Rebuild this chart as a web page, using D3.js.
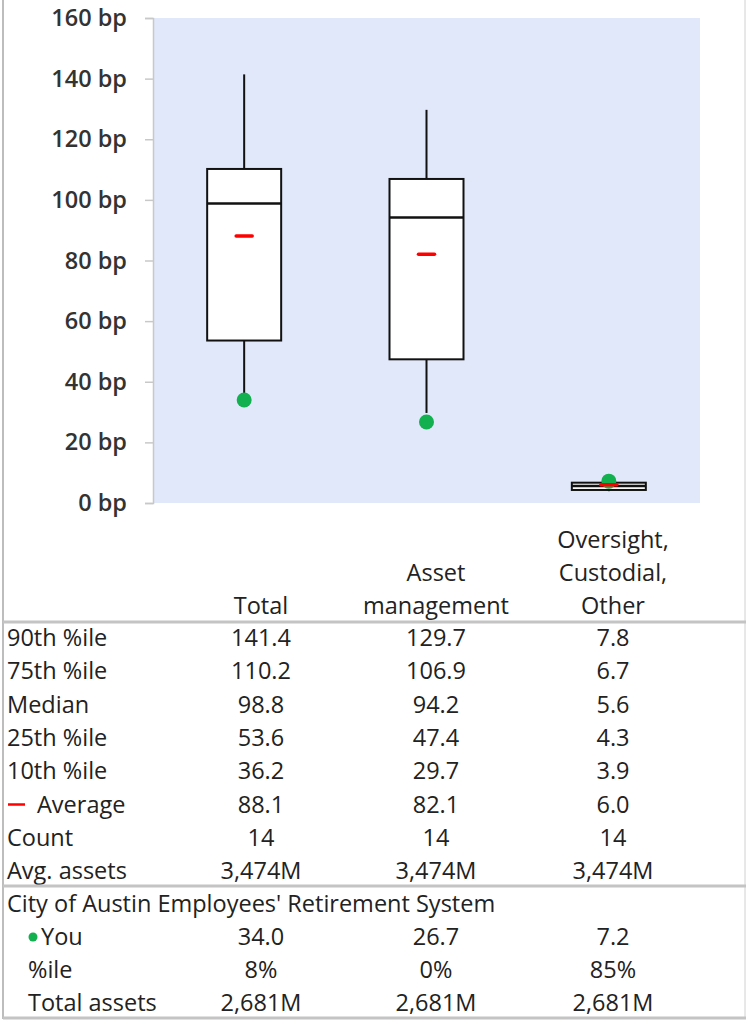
<!DOCTYPE html>
<head>
  <meta charset="utf-8">
  <style>
    body { margin: 0; background: #fff; }
    text { font-family: "Open Sans", "Noto Sans", sans-serif; fill: #222; }
    .tick-label { font-size: 23.5px; font-weight: 600; fill: #333; }
    .cell { font-size: 23.5px; }
  </style>
</head>
<body>
  <div id="chart"></div>
  <script src="https://d3js.org/d3.v7.min.js"></script>
  <script>
    const categories = ['Total', 'Asset management', 'Oversight, Custodial, Other'];
    const headerLines = [['Total'], ['Asset', 'management'], ['Oversight,', 'Custodial,', 'Other']];
    const p90 = [141.4, 129.7, 7.8];
    const p75 = [110.2, 106.9, 6.7];
    const median = [98.8, 94.2, 5.6];
    const p25 = [53.6, 47.4, 4.3];
    const p10 = [36.2, 29.7, 3.9];
    const average = [88.1, 82.1, 6.0];
    const count = [14, 14, 14];
    const avgAssets = ['3,474M', '3,474M', '3,474M'];
    const you = [34.0, 26.7, 7.2];
    const youPctile = ['8%', '0%', '85%'];
    const totalAssets = ['2,681M', '2,681M', '2,681M'];
    const yTicks = [0, 20, 40, 60, 80, 100, 120, 140, 160];
    const orgName = "City of Austin Employees' Retirement System";

    const W = 746, H = 1021;
    const plot = { left: 153, right: 700, top: 18, bottom: 503 };

    const svg = d3.select('#chart').append('svg')
      .attr('width', W).attr('height', H);

    // plot background
    svg.append('rect')
      .attr('x', plot.left).attr('y', plot.top)
      .attr('width', plot.right - plot.left).attr('height', plot.bottom - plot.top)
      .attr('fill', '#e1e8fa');

    let x = d3.scaleBand().domain(categories).range([plot.left, plot.right]);
    let y = d3.scaleLinear().domain([0, 160]).range([plot.bottom, plot.top]);

    // y axis
    let yAxis = svg.append('g')
      .attr('transform', `translate(${plot.left},0)`)
      .call(d3.axisLeft(y).tickValues(yTicks).tickSize(8).tickPadding(18).tickFormat(d => d + ' bp'));
    yAxis.select('.domain').attr('stroke', '#c8c8c8').attr('stroke-width', 1.5);
    yAxis.selectAll('.tick line').attr('stroke', '#c8c8c8').attr('stroke-width', 1.5);
    yAxis.selectAll('.tick text').attr('class', 'tick-label').attr('font-family', null).attr('font-size', null);

    const rows = categories.map((c, i) => ({
      c, p90: p90[i], p75: p75[i], med: median[i], p25: p25[i], p10: p10[i], avg: average[i], you: you[i]
    }));
    const boxW = 74;

    let box = svg.append('g').selectAll('g').data(rows).join('g')
      .attr('transform', d => `translate(${x(d.c) + x.bandwidth() / 2},0)`);

    // whiskers
    box.append('line').attr('x1', 0).attr('x2', 0)
      .attr('y1', d => y(d.p90)).attr('y2', d => y(d.p75))
      .attr('stroke', '#111').attr('stroke-width', 2);
    box.append('line').attr('x1', 0).attr('x2', 0)
      .attr('y1', d => y(d.p25)).attr('y2', d => y(d.p10))
      .attr('stroke', '#111').attr('stroke-width', 2);
    // box
    box.append('rect')
      .attr('x', -boxW / 2).attr('width', boxW)
      .attr('y', d => y(d.p75)).attr('height', d => y(d.p25) - y(d.p75))
      .attr('fill', '#fff').attr('stroke', '#111').attr('stroke-width', 2);
    // median
    box.append('line').attr('x1', -boxW / 2).attr('x2', boxW / 2)
      .attr('y1', d => y(d.med)).attr('y2', d => y(d.med))
      .attr('stroke', '#111').attr('stroke-width', 2.5);
    // you
    box.append('circle').attr('cx', 0).attr('cy', d => y(d.you)).attr('r', 7.5)
      .attr('fill', '#12b04f');
    // average
    box.append('line').attr('x1', -8).attr('x2', 8)
      .attr('y1', d => y(d.avg)).attr('y2', d => y(d.avg))
      .attr('stroke', '#ff0000').attr('stroke-width', 3.5).attr('stroke-linecap', 'round');

    // table
    const colX = [261, 436, 613];
    const rowH = 33.3;

    // headers
    headerLines.forEach((lines, i) => {
      lines.forEach((s, j) => {
        svg.append('text').attr('class', 'cell')
          .attr('x', colX[i]).attr('y', 614 - (lines.length - 1 - j) * 33)
          .attr('text-anchor', 'middle').text(s);
      });
    });

    const fmt1 = d3.format('.1f');
    const tableRows = [
      { label: '90th %ile', vals: p90.map(fmt1) },
      { label: '75th %ile', vals: p75.map(fmt1) },
      { label: 'Median', vals: median.map(fmt1) },
      { label: '25th %ile', vals: p25.map(fmt1) },
      { label: '10th %ile', vals: p10.map(fmt1) },
      { label: 'Average', vals: average.map(fmt1), mark: 'avg' },
      { label: 'Count', vals: count.map(String) },
      { label: 'Avg. assets', vals: avgAssets }
    ];
    const base0 = 646;
    tableRows.forEach((r, k) => {
      const yy = base0 + k * rowH;
      let lx = 7;
      if (r.mark === 'avg') {
        svg.append('line').attr('x1', 8).attr('x2', 25).attr('y1', yy - 8).attr('y2', yy - 8)
          .attr('stroke', '#ff0000').attr('stroke-width', 2.5);
        lx = 37;
      }
      svg.append('text').attr('class', 'cell').attr('x', lx).attr('y', yy).text(r.label);
      r.vals.forEach((v, i) => {
        svg.append('text').attr('class', 'cell').attr('x', colX[i]).attr('y', yy)
          .attr('text-anchor', 'middle').text(v);
      });
    });

    const base1 = 912;
    svg.append('text').attr('class', 'cell').attr('x', 7).attr('y', base1).text(orgName);
    const youRows = [
      { label: 'You', vals: you.map(fmt1), mark: 'you' },
      { label: '%ile', vals: youPctile },
      { label: 'Total assets', vals: totalAssets }
    ];
    youRows.forEach((r, k) => {
      const yy = base1 + (k + 1) * 33;
      let lx = 28;
      if (r.mark === 'you') {
        svg.append('circle').attr('cx', 33).attr('cy', yy - 8).attr('r', 4.5).attr('fill', '#12b04f');
        lx = 41;
      }
      svg.append('text').attr('class', 'cell').attr('x', lx).attr('y', yy).text(r.label);
      r.vals.forEach((v, i) => {
        svg.append('text').attr('class', 'cell').attr('x', colX[i]).attr('y', yy)
          .attr('text-anchor', 'middle').text(v);
      });
    });

    // borders
    const g = svg.append('g').attr('fill', 'none');
    g.append('line').attr('x1', 3).attr('x2', 3).attr('y1', 0).attr('y2', 1019)
      .attr('stroke', '#bdbdbd').attr('stroke-width', 2);
    g.append('line').attr('x1', 745).attr('x2', 745).attr('y1', 0).attr('y2', 1019)
      .attr('stroke', '#d0d0d0').attr('stroke-width', 1);
    [622, 886, 1018].forEach(v => {
      g.append('line').attr('x1', 3).attr('x2', 746).attr('y1', v).attr('y2', v)
        .attr('stroke', '#c4c4c4').attr('stroke-width', 3);
    });
  </script>
</body>
</html>
